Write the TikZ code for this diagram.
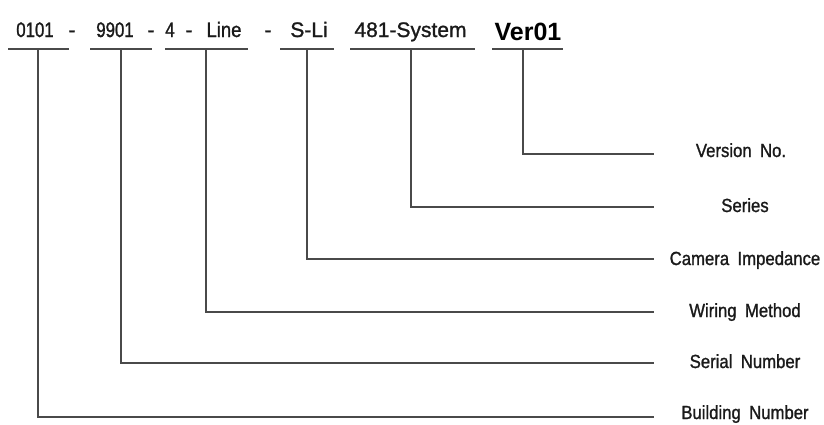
\documentclass[tikz,border=0pt]{standalone}
\usepackage{fontspec}
\setmainfont{Liberation Sans}
\newfontfamily\digfont[FakeStretch=0.8,FakeBold=1.2]{Liberation Sans}
\newfontfamily\labfont[FakeStretch=0.88,FakeBold=1.2,WordSpace=1.8]{Liberation Sans}
\newfontfamily\widefont[FakeBold=1.2]{Liberation Sans}
\newfontfamily\verfont{Liberation Sans Bold}
\definecolor{ink}{HTML}{1A1A1A}
\definecolor{wire}{HTML}{4A4A4A}
\begin{document}
\begin{tikzpicture}[x=1pt,y=-1pt,
  tok/.style={inner sep=0pt,anchor=base,text=ink},
  dig/.style={tok,font=\digfont\fontsize{21}{24}\selectfont},
  wrd/.style={tok,font=\labfont\fontsize{21}{24}\selectfont},
  wide/.style={tok,font=\widefont\fontsize{21}{24}\selectfont},
  ver/.style={tok,font=\verfont\fontsize{25}{28}\selectfont,text=black},
  lab/.style={inner sep=0pt,anchor=base,text=ink,font=\labfont\fontsize{19}{22}\selectfont},
  uline/.style={draw=wire,line width=2pt},
  wireline/.style={draw=wire,line width=1.8pt}]
\useasboundingbox (0,0) rectangle (824,424);
% top code tokens
\node[dig] (t1) at (35,37) {0101};
\node[wide] (m1) at (72,37) {-};
\node[dig] (t2) at (115,37) {9901};
\node[wide] (m2) at (151,37) {-};
\node[dig] (t3a) at (170,37) {4};
\node[wide] (m3) at (189,37) {-};
\node[wrd] (t3b) at (224,37) {Line};
\node[wide] (m4) at (268,37) {-};
\node[wide] (t4) at (309,37) {S-Li};
\node[wide] (t5) at (410.5,37) {481-System};
\node[ver] (t6) at (528,40) {Ver01};
% underlines
\coordinate (u1a) at (8,49);   \coordinate (u1b) at (69,49);
\coordinate (u2a) at (90,49);  \coordinate (u2b) at (152,49);
\coordinate (u3a) at (165,49); \coordinate (u3b) at (248,49);
\coordinate (u4a) at (280,49); \coordinate (u4b) at (334,49);
\coordinate (u5a) at (350,49); \coordinate (u5b) at (475,49);
\coordinate (u6a) at (492,49); \coordinate (u6b) at (563,49);
\foreach \i in {1,...,6} {\draw[uline] (u\i a) -- (u\i b);}
% drop points
\coordinate (d1) at (38,49);
\coordinate (d2) at (121,49);
\coordinate (d3) at (206,49);
\coordinate (d4) at (307,49);
\coordinate (d5) at (411,49);
\coordinate (d6) at (523,49);
% line ends
\coordinate (e6) at (654,154);
\coordinate (e5) at (654,207);
\coordinate (e4) at (654,259);
\coordinate (e3) at (654,312);
\coordinate (e2) at (654,363);
\coordinate (e1) at (654,417);
% labels
\node[lab] (l6) at (741,157) {Version No.};
\node[lab] (l5) at (745,212) {Series};
\node[lab] (l4) at (745,265) {Camera Impedance};
\node[lab] (l3) at (745,317) {Wiring Method};
\node[lab] (l2) at (745,368) {Serial Number};
\node[lab] (l1) at (745,419) {Building Number};
% connectors
\foreach \i in {1,...,6} {\draw[wireline] (d\i) |- (e\i);}
\end{tikzpicture}
\end{document}
